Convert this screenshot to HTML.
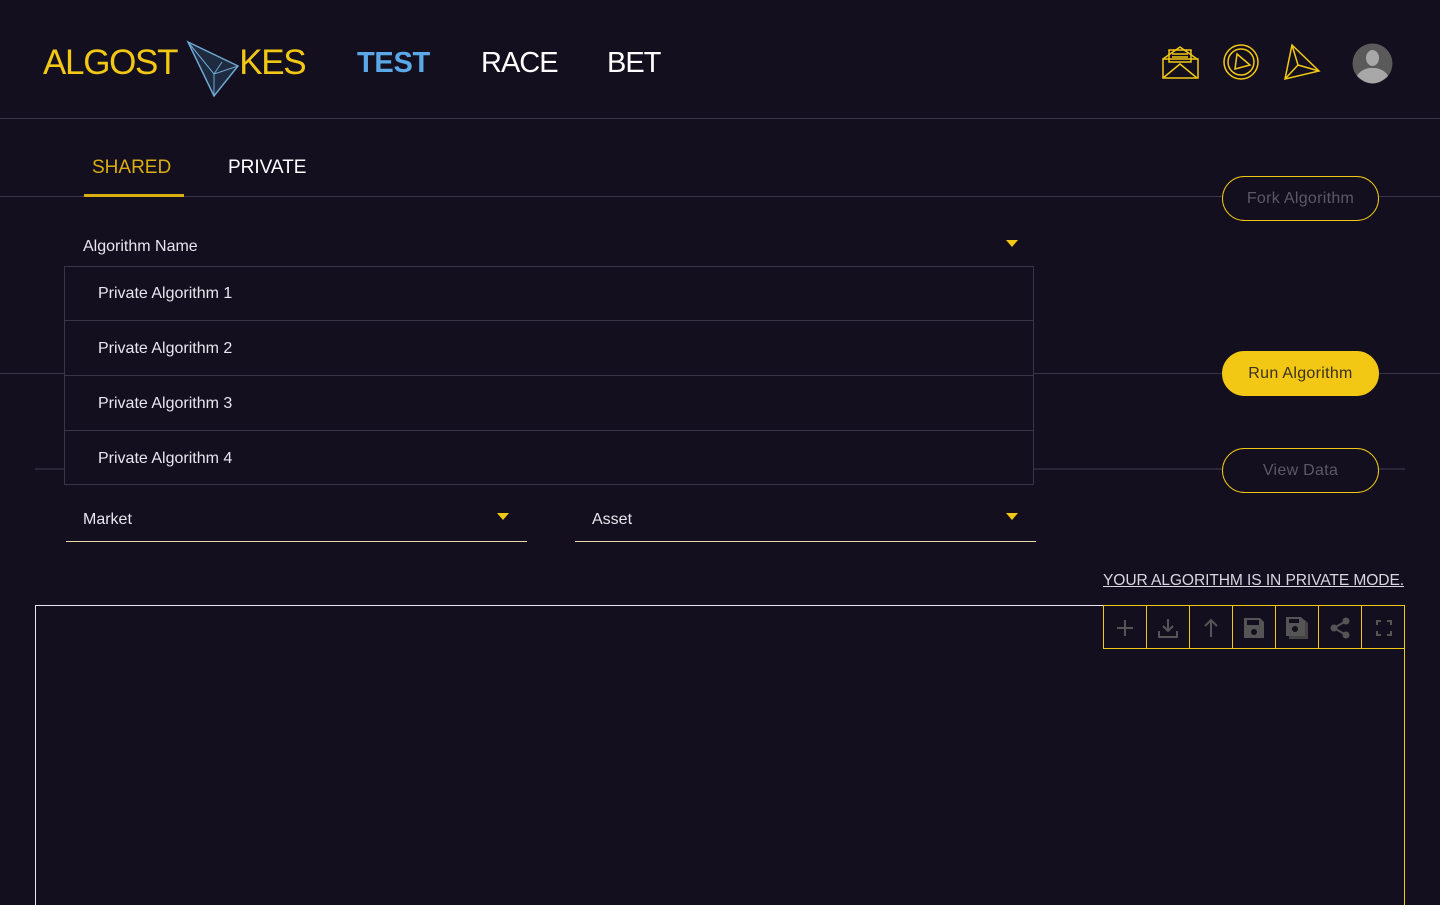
<!DOCTYPE html>
<html><head><meta charset="utf-8">
<style>
*{box-sizing:border-box;margin:0;padding:0}
body{width:1440px;height:900px;background:#130f1f;font-family:"Liberation Sans",sans-serif;position:relative;overflow:hidden;color:#e8e6ee}
.abs{position:absolute}
.hline{position:absolute;height:1px;background:#3a3448}
.nav{position:absolute;top:47px;font-size:29px;font-weight:bold;letter-spacing:-0.3px}
.btn{position:absolute;left:1222px;width:157px;height:45px;border:1.5px solid #f2c814;border-radius:23px;font-size:16px;display:flex;align-items:center;justify-content:center;color:#5c5866;background:#130f1f;letter-spacing:0.3px}
.item{position:absolute;left:65px;width:968px;height:55px;border-bottom:1px solid #3a3448;font-size:16px;color:#e8e6ee;padding-left:33px;line-height:55px}
.sel{position:absolute;font-size:16px;color:#e8e6ee}
.tri{position:absolute;width:0;height:0;border-left:6px solid transparent;border-right:6px solid transparent;border-top:7px solid #f2c814}
.tb{position:absolute;top:606px;width:43px;height:43px;border-right:1px solid #f2c814;display:flex;align-items:center;justify-content:center}
</style></head><body>
<div class="hline" style="left:0;top:118px;width:1440px"></div>
<div class="abs" style="left:43px;top:43px;font-size:35px;color:#f2c814;letter-spacing:-1.3px">ALGOST<span style="display:inline-block;width:62px"></span>KES</div>
<svg class="abs" style="left:186px;top:40px" width="54" height="58"><polygon points="2,2 52,26 28,56" fill="#1d2a40" stroke="#6fa8d0" stroke-width="1.5"/><path d="M2,2 L28,34 L52,26 M28,34 L28,56 M36,22 L28,34" stroke="#6fa8d0" fill="none"/></svg>
<div class="nav" style="left:357px;color:#5aa8e8">TEST</div>
<div class="nav" style="left:481px;color:#fff;font-weight:normal;letter-spacing:-1px">RACE</div>
<div class="nav" style="left:607px;color:#fff;font-weight:normal;letter-spacing:-1px">BET</div>
<svg class="abs" style="left:1162px;top:44px" width="38" height="36"><g fill="none" stroke="#f2c814" stroke-width="1.5"><rect x="1" y="15" width="35" height="19"/><path d="M1,15 L18,3 L35,15 M1,34 L18,20 L35,34"/><rect x="7" y="6" width="22" height="12"/><path d="M10,10h16M10,13h16"/></g></svg>
<svg class="abs" style="left:1222px;top:43px" width="38" height="38"><g fill="none" stroke="#f2c814" stroke-width="1.5"><circle cx="19" cy="19" r="17"/><circle cx="19" cy="19" r="13"/><polygon points="15,11 28,22 13,26"/></g></svg>
<svg class="abs" style="left:1283px;top:43px" width="40" height="40"><g fill="none" stroke="#f2c814" stroke-width="1.5"><polygon points="9,2 36,28 2,36"/><path d="M9,2 L15,22 L36,28 M15,22 L2,36"/></g></svg>
<svg class="abs" style="left:1352px;top:43px" width="41" height="41"><circle cx="20.5" cy="20.5" r="20" fill="#5a5a5a"/><ellipse cx="20.5" cy="15" rx="6.5" ry="8" fill="#a8a8a8"/><path d="M5,33 Q8,27 17,25 L24,25 Q33,27 36,33 Q29,40 20.5,40.5 Q12,40 5,33Z" fill="#a8a8a8"/></svg>

<div class="hline" style="left:0;top:196px;width:1440px"></div>
<div class="abs" style="left:92px;top:157px;font-size:19px;color:#d9ae10">SHARED</div>
<div class="abs" style="left:84px;top:194px;width:100px;height:3px;background:#d9ae10"></div>
<div class="abs" style="left:228px;top:157px;font-size:19px;color:#fff">PRIVATE</div>

<div class="hline" style="left:0;top:373px;width:1440px"></div>
<div class="hline" style="left:35px;top:468px;width:1370px;height:2px;background:#2a2538"></div>

<div class="btn" style="top:176px">Fork Algorithm</div>
<div class="btn" style="top:351px;background:#f2c814;color:#3a3020">Run Algorithm</div>
<div class="btn" style="top:448px">View Data</div>

<div class="sel" style="left:83px;top:238px">Algorithm Name</div>
<div class="tri" style="left:1006px;top:240px"></div>
<div class="abs" style="left:64px;top:266px;width:970px;height:219px;background:#130f1f;border:1px solid #3a3448"></div>
<div class="item" style="top:266px">Private Algorithm 1</div>
<div class="item" style="top:321px">Private Algorithm 2</div>
<div class="item" style="top:376px">Private Algorithm 3</div>
<div class="item" style="top:431px;border-bottom:none">Private Algorithm 4</div>

<div class="sel" style="left:83px;top:511px">Market</div>
<div class="tri" style="left:497px;top:513px"></div>
<div class="abs" style="left:66px;top:541px;width:461px;height:1px;background:#e6dca8"></div>
<div class="sel" style="left:592px;top:511px">Asset</div>
<div class="tri" style="left:1006px;top:513px"></div>
<div class="abs" style="left:575px;top:541px;width:461px;height:1px;background:#e6dca8"></div>

<div class="abs" style="left:1103px;top:572px;font-size:15.6px;color:#d8d6de;text-decoration:underline;letter-spacing:-0.1px">YOUR ALGORITHM IS IN PRIVATE MODE.</div>

<div class="abs" style="left:35px;top:605px;width:1370px;height:300px;border:1px solid #e8e6ee;border-right:1px solid #f2c814;border-bottom:none"></div>
<div class="abs" style="left:1103px;top:605px;width:302px;height:44px;border:1px solid #f2c814"></div>
<div class="tb" style="left:1104px"><svg width="18" height="18"><path d="M9,1v16M1,9h16" stroke="#555" stroke-width="2"/></svg></div>
<div class="tb" style="left:1147px"><svg width="22" height="22"><path d="M11,2v12M6,9l5,5 5-5M2,14v6h18v-6" stroke="#555" stroke-width="2" fill="none"/></svg></div>
<div class="tb" style="left:1190px"><svg width="18" height="20"><path d="M9,19V2M3,8l6-6 6,6" stroke="#555" stroke-width="2" fill="none"/></svg></div>
<div class="tb" style="left:1233px"><svg width="22" height="22"><path d="M1,1h16l4,4v16H1z" fill="#555"/><rect x="4" y="3" width="12" height="5" fill="#130f1f"/><circle cx="11" cy="15" r="3" fill="#130f1f"/></svg></div>
<div class="tb" style="left:1276px"><svg width="24" height="24"><path d="M4,4h16l3,3v16H4z" fill="#444"/><path d="M1,1h15l4,4v15H1z" fill="#555"/><rect x="4" y="3" width="10" height="4" fill="#130f1f"/><circle cx="10" cy="13" r="3" fill="#130f1f"/></svg></div>
<div class="tb" style="left:1319px"><svg width="22" height="22"><path d="M17,4L5,11l12,7" stroke="#555" stroke-width="2" fill="none"/><circle cx="17" cy="4" r="3.5" fill="#555"/><circle cx="5" cy="11" r="3.5" fill="#555"/><circle cx="17" cy="18" r="3.5" fill="#555"/></svg></div>
<div class="tb" style="left:1362px;border-right:none"><svg width="16" height="16"><path d="M1,5V1h4M11,1h4v4M15,11v4h-4M5,15H1v-4" stroke="#555" stroke-width="2" fill="none"/></svg></div>
</body></html>
